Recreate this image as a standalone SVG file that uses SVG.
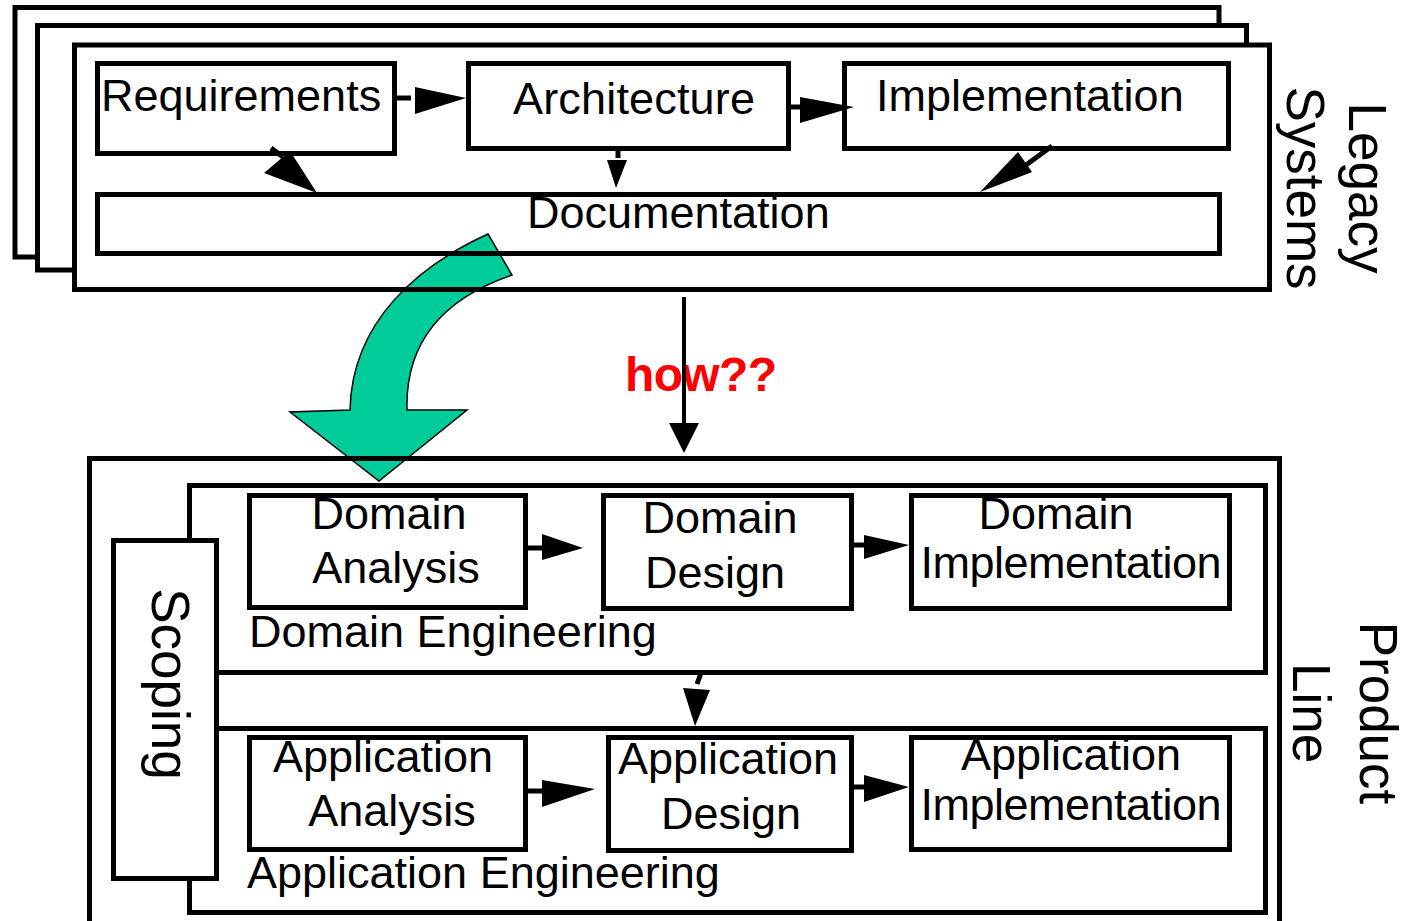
<svg xmlns="http://www.w3.org/2000/svg" width="1408" height="921" viewBox="0 0 1408 921">
<style>
.box{fill:none;stroke:#000;stroke-width:5}
.wbox{fill:#fff;stroke:#000;stroke-width:5}
.t{font-family:"Liberation Sans",Arial,sans-serif;font-size:45px;fill:#000}
.c{text-anchor:middle}
.big{font-family:"Liberation Sans",Arial,sans-serif;font-size:53px;fill:#000;text-anchor:middle}
.ln{stroke:#000;stroke-width:5;fill:none}
.ah{fill:#000;stroke:none}
</style>
<rect width="1408" height="921" fill="#fff"/>
<g id="legacy-back">
<rect class="wbox" x="15" y="7.5" width="1204" height="249.5"/>
<rect class="wbox" x="37.5" y="25.5" width="1209" height="244.5"/>
<rect x="74.5" y="45" width="1195" height="244.5" fill="#fff"/>
</g>
<g id="green-arrow">
<path d="M488,234 C420,265 352,320 350,410 L290,412 L379,481 L467,410 L407,410 C405,340 445,298 512,275 Z" fill="#00CC99" stroke="#000" stroke-width="1.5"/>
</g>
<g id="legacy-systems">
<rect class="box" x="74.5" y="45" width="1195" height="244.5"/>
<text class="big" transform="translate(1349,188) rotate(90)">Legacy</text>
<text class="big" transform="translate(1287,188) rotate(90)">Systems</text>
</g>
<g id="requirements">
<rect class="box" x="97.5" y="63.5" width="297" height="90"/>
<text class="t" x="101" y="111">Requirements</text>
</g>
<g id="architecture">
<rect class="box" x="468.5" y="63.5" width="320" height="85"/>
<text class="t" x="513" y="114" textLength="242">Architecture</text>
</g>
<g id="implementation">
<rect class="box" x="844.5" y="63.5" width="384" height="85"/>
<text class="t" x="876" y="111">Implementation</text>
</g>
<g id="documentation">
<rect class="box" x="97.5" y="194.5" width="1122" height="59"/>
<text class="t" x="527" y="228">Documentation</text>
</g>
<g id="how">
<text x="625" y="391" font-family="'Liberation Sans',Arial,sans-serif" font-size="48" font-weight="bold" fill="#f00" textLength="152">how??</text>
</g>
<g id="product-line">
<rect class="box" x="89.5" y="458.5" width="1190" height="480"/>
<text class="big" transform="translate(1360,713) rotate(90)">Product</text>
<text class="big" transform="translate(1293,713) rotate(90)">Line</text>
</g>
<g id="domain-engineering">
<rect class="box" x="189.5" y="485.5" width="1076" height="187"/>
<text class="t" x="249" y="647">Domain Engineering</text>
</g>
<g id="application-engineering">
<rect class="box" x="189.5" y="728.5" width="1076" height="184"/>
<text class="t" x="247" y="888">Application Engineering</text>
</g>
<g id="scoping">
<rect class="wbox" x="113.5" y="540.5" width="103" height="338"/>
<text class="big" transform="translate(152,684) rotate(90)">Scoping</text>
</g>
<g id="domain-analysis">
<rect class="box" x="249.5" y="495.5" width="276" height="112"/>
<text class="t c" x="389" y="529">Domain</text>
<text class="t c" x="396" y="583">Analysis</text>
</g>
<g id="domain-design">
<rect class="box" x="603.5" y="495.5" width="248" height="113"/>
<text class="t c" x="720" y="533">Domain</text>
<text class="t c" x="715" y="588">Design</text>
</g>
<g id="domain-implementation">
<rect class="box" x="911.5" y="495.5" width="318" height="113"/>
<text class="t c" x="1056" y="529">Domain</text>
<text class="t c" x="1071" y="578" textLength="301">Implementation</text>
</g>
<g id="application-analysis">
<rect class="box" x="249.5" y="737.5" width="276" height="112"/>
<text class="t c" x="383" y="772">Application</text>
<text class="t c" x="392" y="826">Analysis</text>
</g>
<g id="application-design">
<rect class="box" x="608.5" y="737.5" width="243" height="113"/>
<text class="t c" x="728" y="774">Application</text>
<text class="t c" x="731" y="829">Design</text>
</g>
<g id="application-implementation">
<rect class="box" x="911.5" y="737.5" width="318" height="112"/>
<text class="t c" x="1071" y="770">Application</text>
<text class="t c" x="1071" y="820" textLength="301">Implementation</text>
</g>
<g id="connectors">
<line class="ln" x1="397" y1="98" x2="411" y2="98"/>
<polygon class="ah" points="415,87 466,98 415,114"/>
<line class="ln" x1="791" y1="107" x2="800" y2="107"/>
<polygon class="ah" points="800,97 854,107 800,123"/>
<line class="ln" x1="618" y1="151" x2="618" y2="158"/>
<polygon class="ah" points="607,160 627,160 616,188"/>
<line class="ln" x1="271" y1="148" x2="283" y2="157"/>
<polygon class="ah" points="264,173 290,151 317,193"/>
<line class="ln" x1="1052" y1="146" x2="1026" y2="165"/>
<polygon class="ah" points="1018,152 1032,172 980,192"/>
<line stroke="#000" stroke-width="4" x1="684" y1="297" x2="684" y2="425"/>
<polygon class="ah" points="669,423 699,423 684,453"/>
<line class="ln" x1="528" y1="548" x2="542" y2="548"/>
<polygon class="ah" points="542,534 583,548 542,560"/>
<line class="ln" x1="854" y1="545" x2="864" y2="545"/>
<polygon class="ah" points="864,535 909,545 864,559"/>
<line class="ln" x1="701" y1="673" x2="697" y2="684"/>
<polygon class="ah" points="683,688 710,690 695,726"/>
<line class="ln" x1="528" y1="791" x2="542" y2="791"/>
<polygon class="ah" points="542,780 595,789 542,807"/>
<line class="ln" x1="854" y1="787" x2="864" y2="787"/>
<polygon class="ah" points="864,775 909,787 864,802"/>
</g>
</svg>
